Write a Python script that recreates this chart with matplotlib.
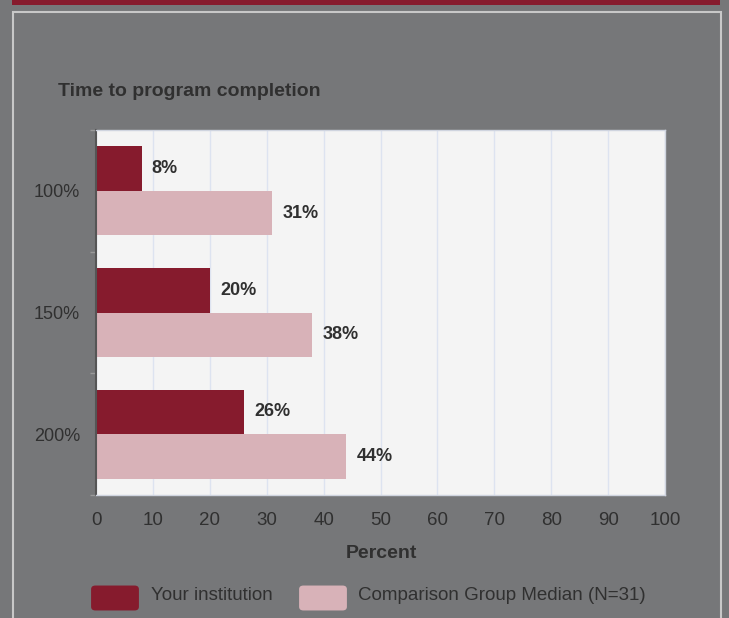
import matplotlib
matplotlib.use("Agg")
import matplotlib.pyplot as plt
from matplotlib.patches import FancyBboxPatch, Rectangle
import numpy as np

categories = ["100%", "150%", "200%"]
your_institution = [8, 20, 26]
comparison_median = [31, 38, 44]
series_names = ["Your institution", "Comparison Group Median (N=31)"]
title = "Time to program completion"
xlabel = "Percent"

RED = "#861b2d"
PINK = "#d8b2b8"
BG = "#767779"
TXT = "#303030"

plt.rcParams['font.family'] = ['Liberation Sans', 'DejaVu Sans']

W, H = 729, 618
fig = plt.figure(figsize=(W / 100, H / 100), dpi=100)
fig.patch.set_facecolor(BG)

def fx(px):
    return px / W

def fy(py):
    return 1 - py / H

# top red strip
fig.patches.append(Rectangle((fx(12), fy(5)), fx(708), 5 / H, transform=fig.transFigure,
                             facecolor=RED, edgecolor='none'))
# inner border box
fig.patches.append(Rectangle((fx(12.5), fy(640)), fx(708), 628 / H, transform=fig.transFigure,
                             facecolor='none', edgecolor='#c8c8c8', linewidth=1.5))

ax = fig.add_axes([fx(96), fy(495), fx(665 - 96), (495 - 130) / H])
ax.set_facecolor('#f4f4f4')

n = len(categories)
y = np.arange(n)
bh = 0.365
ax.barh(y - bh / 2, your_institution, height=bh, color=RED, edgecolor='none')
ax.barh(y + bh / 2, comparison_median, height=bh, color=PINK, edgecolor='none')

for i in range(n):
    ax.text(your_institution[i] + 1.8, y[i] - bh / 2, f"{your_institution[i]}%", va='center',
            ha='left', fontsize=13, fontweight='bold', color=TXT)
    ax.text(comparison_median[i] + 1.8, y[i] + bh / 2, f"{comparison_median[i]}%", va='center',
            ha='left', fontsize=13, fontweight='bold', color=TXT)

ax.set_xlim(0, 100)
ax.set_ylim(n - 0.5, -0.5)
ax.set_xticks(np.arange(0, 101, 10))
ax.set_xticklabels([str(v) for v in range(0, 101, 10)], fontsize=13.5, color=TXT)
ax.set_yticks(y)
ax.set_yticklabels(categories, fontsize=13, color=TXT)
ax.tick_params(axis='y', length=0, pad=11.5)
ax.tick_params(axis='x', length=0, pad=12)
ax.set_yticks(np.arange(-0.5, n, 1.0), minor=True)
ax.tick_params(axis='y', which='minor', length=4, color='#999999', width=1)
ax.xaxis.grid(True, color='#dde3f0', linewidth=1)
ax.set_axisbelow(True)
for s in ['top', 'right', 'bottom']:
    ax.spines[s].set_color('#cfd4df')
    ax.spines[s].set_linewidth(1)
ax.spines['left'].set_color('#555555')
ax.spines['left'].set_linewidth(1.5)

fig.text(fx(58), fy(91), title, fontsize=14, fontweight='bold', color=TXT, va='center', ha='left')
fig.text(fx(381), fy(553), xlabel, fontsize=14, fontweight='bold', color=TXT, va='center', ha='center')

# legend
for (x0, c, lab, tx) in [(91, RED, series_names[0], 151), (299, PINK, series_names[1], 358)]:
    fig.patches.append(FancyBboxPatch((fx(x0 + 3), fy(611 - 3)), fx(48 - 6), 20 / H,
                                      boxstyle="round,pad=0.004,rounding_size=0.006",
                                      transform=fig.transFigure, facecolor=c, edgecolor='none'))
    fig.text(fx(tx), fy(596), lab, fontsize=13.5, color=TXT, va='center', ha='left')

fig.savefig("out.png", dpi=100, facecolor=BG)
